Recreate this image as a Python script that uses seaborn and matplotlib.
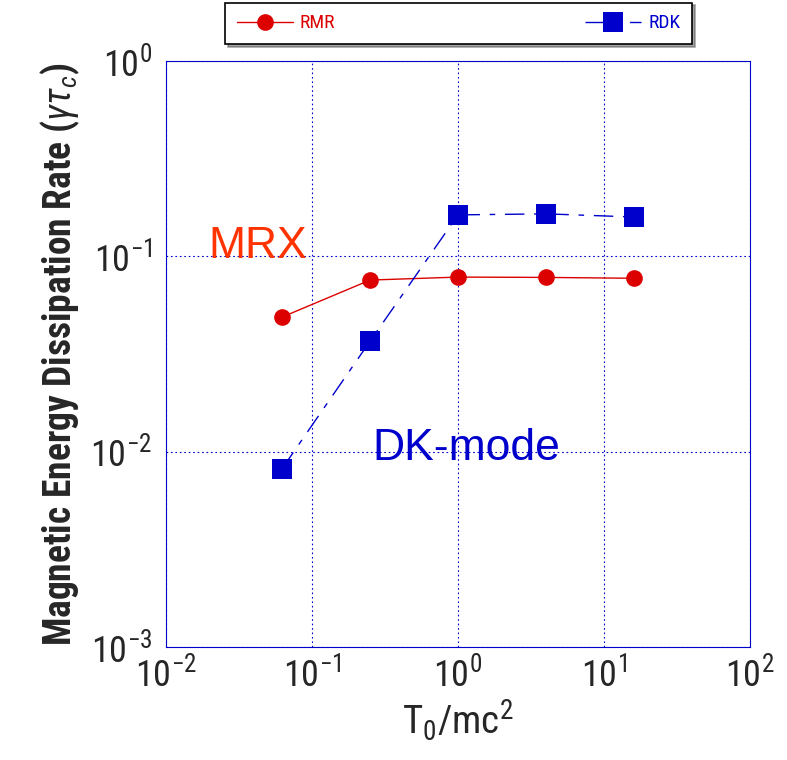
import pandas as pd
import matplotlib
matplotlib.use("Agg")
import matplotlib.pyplot as plt
import seaborn as sns

# daten
temperature = [1 / 16, 1 / 4, 1, 4, 16]
rate_rmr = [0.0489, 0.0756, 0.0783, 0.0780, 0.0772]
rate_rdk = [0.0082, 0.0368, 0.163, 0.165, 0.159]
x_ticks = [1e-2, 1e-1, 1e0, 1e1, 1e2]
y_ticks = [1e-3, 1e-2, 1e-1, 1e0]

df = pd.DataFrame({
    "T0": temperature * 2,
    "rate": rate_rmr + rate_rdk,
    "model": ["RMR"] * 5 + ["RDK"] * 5,
})

sns.set_style("white")
cond = ["Roboto Condensed", "DejaVu Sans"]
plt.rcParams["font.family"] = cond
plt.rcParams["mathtext.fontset"] = "custom"
plt.rcParams["mathtext.rm"] = "Roboto Condensed"
plt.rcParams["mathtext.it"] = "Roboto Condensed:italic"
plt.rcParams["mathtext.bf"] = "Roboto Condensed:bold"
arial = ["Liberation Sans", "DejaVu Sans"]

fig = plt.figure(figsize=(7.87, 7.60), dpi=100)
ax = fig.add_axes([166 / 787, 1 - 647 / 760, 584 / 787, 586 / 760])

red = "#dd0000"
blue = "#0000cc"

sns.lineplot(data=df[df.model == "RMR"], x="T0", y="rate", ax=ax, color=red,
             lw=1.0, marker="o", markersize=12, markeredgewidth=0, label="RMR")
sns.lineplot(data=df[df.model == "RDK"], x="T0", y="rate", ax=ax, color=blue,
             lw=1.0, marker="s", markersize=14.5, markeredgewidth=0, label="RDK",
             dashes=False, linestyle=(0, (14, 7, 4, 7)))

ax.set_xscale("log")
ax.set_yscale("log")
ax.set_xlim(1e-2, 1e2)
ax.set_ylim(1e-3, 1e0)
ax.set_xticks(x_ticks)
ax.set_yticks(y_ticks)
ax.minorticks_off()
ax.tick_params(labelsize=26, length=0)
ax.tick_params(axis="x", pad=7)
ax.tick_params(axis="y", pad=10)

ax.grid(True, which="major", color=blue, ls=(0, (1.5, 2.5)), lw=0.8)
for s in ax.spines.values():
    s.set_color(blue)
    s.set_linewidth(0.8)

ax.set_xlabel(r"T$_0$/mc$^2$", fontsize=28, labelpad=2)
ax.set_ylabel(r"Magnetic Energy Dissipation Rate ($\gamma\tau_c$)", fontsize=27,
              fontweight="bold", labelpad=6)

ax.text(0.0194, 0.098, "MRX", color="#ff3300", fontsize=32, family=arial,
        ha="left", va="baseline")
ax.text(0.258, 0.00906, "DK-mode", color=blue, fontsize=32, family=arial,
        ha="left", va="baseline")

leg = ax.legend(loc="lower left", bbox_to_anchor=(225 / 787, 1 - 44 / 760, 467 / 787, 31 / 760),
                bbox_transform=fig.transFigure, ncol=2, mode="expand", fancybox=False,
                shadow=True, frameon=True, edgecolor="black", handlelength=2.9,
                handletextpad=0.35, borderpad=0.6, borderaxespad=0,
                prop={"family": cond, "size": 14})
leg.get_frame().set_linewidth(1.2)
for t, c in zip(leg.get_texts(), [red, blue]):
    t.set_color(c)

plt.savefig("out.png", dpi=100)
